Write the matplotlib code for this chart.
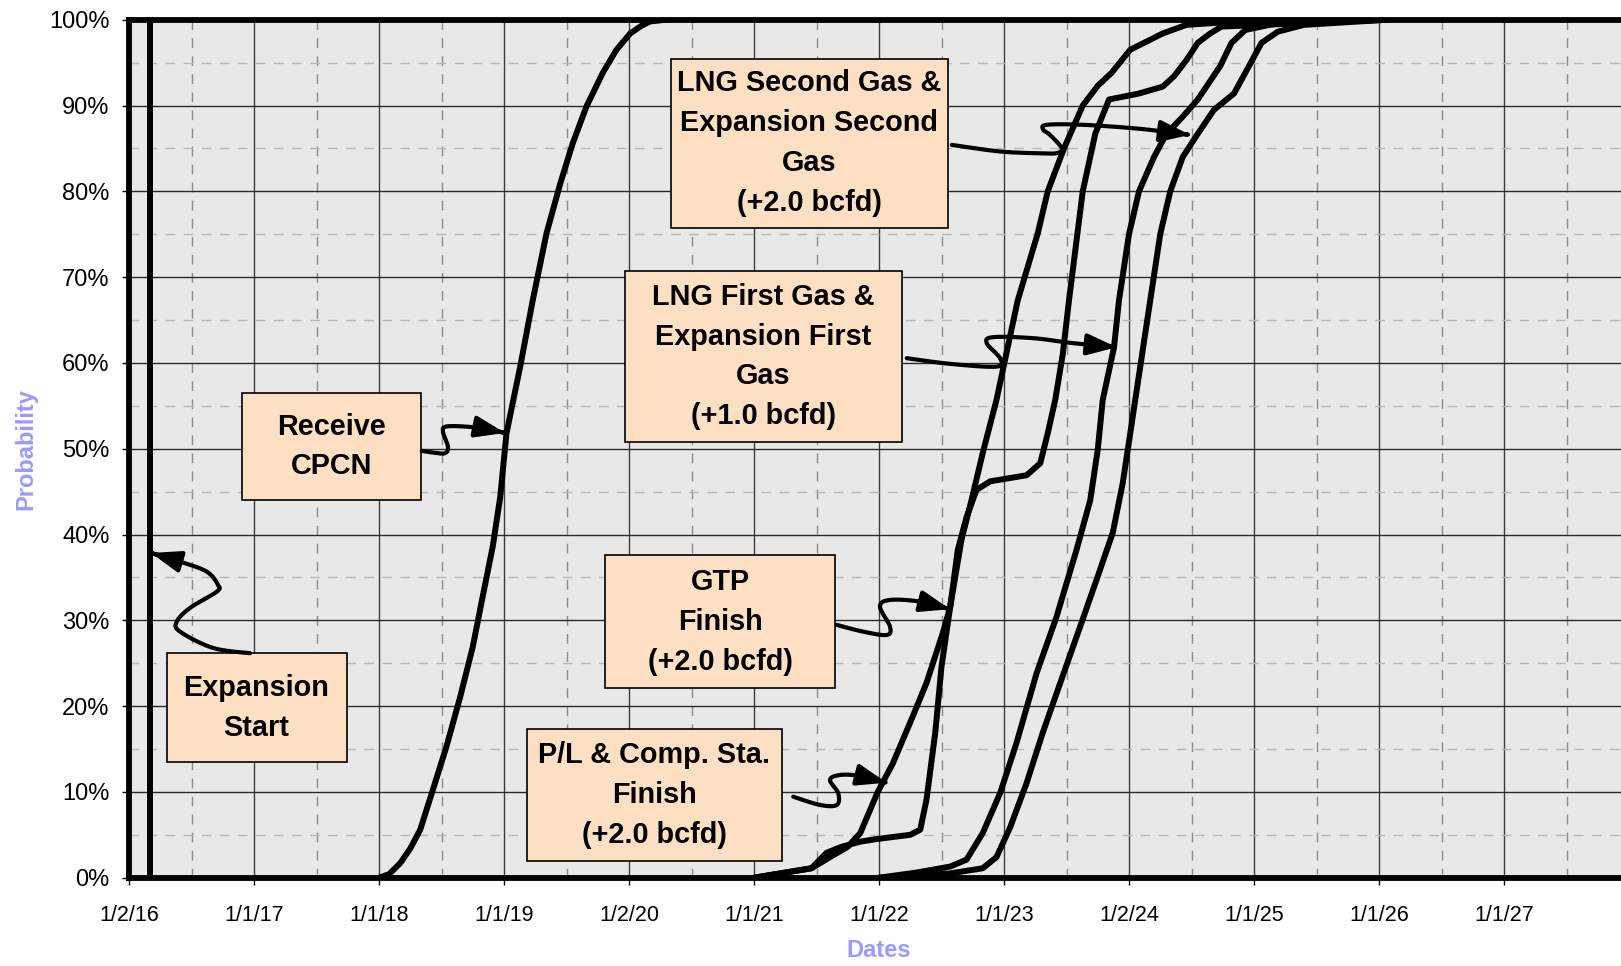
import numpy as np
import matplotlib.pyplot as plt
from matplotlib.patches import Rectangle, FancyArrowPatch
from matplotlib.path import Path
from matplotlib.ticker import FixedLocator, MultipleLocator, FuncFormatter

plt.rcParams['font.family'] = ['Liberation Sans', 'DejaVu Sans']

# Dates as decimal years, probabilities in percent
tick_years = [2016, 2017, 2018, 2019, 2020, 2021, 2022, 2023, 2024, 2025, 2026, 2027]
tick_labels = ['1/2/16', '1/1/17', '1/1/18', '1/1/19', '1/2/20', '1/1/21',
               '1/1/22', '1/1/23', '1/2/24', '1/1/25', '1/1/26', '1/1/27']

exp_x = [2016.17, 2016.17]
exp_y = [0, 100]

cpcn_x = [2018.00, 2018.08, 2018.17, 2018.25, 2018.33, 2018.43, 2018.54, 2018.65, 2018.75,
          2018.83, 2018.91, 2018.97, 2019.02, 2019.13, 2019.23, 2019.34, 2019.45, 2019.55,
          2019.66, 2019.79, 2019.90, 2020.01, 2020.10, 2020.17, 2020.30]
cpcn_y = [0, 0.4, 1.7, 3.4, 5.6, 10.2, 15.3, 21.1, 26.9, 32.8, 38.6, 44.4, 51.8, 59.6,
          67.3, 75.1, 80.9, 85.6, 89.9, 93.8, 96.5, 98.4, 99.3, 99.8, 100]

pl_x = [2021.00, 2021.46, 2021.62, 2021.75, 2021.85, 2021.99, 2022.11, 2022.27, 2022.38,
        2022.51, 2022.57, 2022.66, 2022.74, 2022.83, 2022.94, 2023.11, 2023.27, 2023.35,
        2023.48, 2023.63, 2023.75, 2023.86, 2024.01, 2024.27, 2024.46, 2024.87, 2026.07]
pl_y = [0, 1.1, 2.5, 3.6, 5.2, 10.0, 13.3, 18.8, 22.7, 28.5, 31.6, 39.4, 44.0, 49.5, 55.7,
        67.3, 75.1, 80.0, 85.0, 90.0, 92.3, 93.8, 96.5, 98.4, 99.4, 99.8, 100]

gtp_x = [2021.00, 2021.46, 2021.58, 2021.70, 2021.85, 2021.98, 2022.25, 2022.33, 2022.38,
         2022.45, 2022.50, 2022.57, 2022.63, 2022.70, 2022.78, 2022.89, 2023.18, 2023.29,
         2023.35, 2023.41, 2023.47, 2023.52, 2023.63, 2023.73, 2023.84, 2024.08, 2024.27,
         2024.36, 2024.46, 2024.55, 2024.65, 2024.74, 2026.07]
gtp_y = [0, 1.1, 2.9, 3.6, 4.2, 4.5, 5.0, 5.6, 9.1, 16.9, 24.6, 31.6, 38.2, 42.0, 45.2,
         46.2, 46.9, 48.3, 51.8, 55.7, 61.0, 67.3, 80.0, 86.7, 90.7, 91.4, 92.2, 93.4,
         95.3, 97.3, 98.4, 99.2, 100]

first_x = [2022.00, 2022.30, 2022.57, 2022.70, 2022.83, 2022.97, 2023.10, 2023.26, 2023.42,
           2023.58, 2023.69, 2023.75, 2023.79, 2023.88, 2023.92, 2024.00, 2024.08, 2024.20,
           2024.30, 2024.43, 2024.55, 2024.73, 2024.82, 2024.93, 2025.19, 2026.07]
first_y = [0, 0.6, 1.3, 2.1, 5.2, 9.9, 15.7, 23.8, 30.4, 38.2, 44.0, 49.9, 55.7, 61.8,
           67.3, 75.0, 80.0, 84.0, 86.7, 88.7, 90.7, 94.6, 97.3, 98.8, 99.6, 100]

second_x = [2022.00, 2022.57, 2022.83, 2022.94, 2023.05, 2023.18, 2023.31, 2023.45, 2023.61,
            2023.74, 2023.87, 2023.95, 2024.01, 2024.05, 2024.11, 2024.17, 2024.25, 2024.33,
            2024.43, 2024.55, 2024.68, 2024.84, 2024.96, 2025.06, 2025.19, 2025.40, 2026.07]
second_y = [0, 0.5, 1.1, 2.4, 5.9, 11.0, 16.9, 22.7, 29.3, 34.7, 40.2, 46.0, 51.8, 55.7,
            61.5, 67.3, 75.0, 80.0, 84.0, 86.7, 89.5, 91.4, 94.6, 97.3, 98.6, 99.4, 100]

# callout boxes: text and extent (x0, x1, y0, y1) in data units
box_texts = ['Expansion\nStart', 'Receive\nCPCN',
             'LNG Second Gas &\nExpansion Second\nGas\n(+2.0 bcfd)',
             'LNG First Gas &\nExpansion First\nGas\n(+1.0 bcfd)',
             'GTP\nFinish\n(+2.0 bcfd)', 'P/L & Comp. Sta.\nFinish\n(+2.0 bcfd)']
box_extents = [(2016.30, 2017.74, 13.5, 26.15), (2016.90, 2018.34, 44.0, 56.5),
               (2020.335, 2022.55, 75.74, 95.45), (2019.97, 2022.18, 50.74, 70.74),
               (2019.806, 2021.65, 22.06, 37.6), (2019.186, 2021.22, 1.92, 17.3)]

# squiggly arrows from boxes to curves (waypoints)
arrow_paths = [
    [(2016.968, 26.16), (2016.672, 26.78), (2016.408, 28.68), (2016.382, 29.84),
     (2016.488, 31.44), (2016.702, 33.34), (2016.712, 34.12), (2016.622, 35.67),
     (2016.408, 36.84), (2016.176, 37.85)],
    [(2018.342, 49.75), (2018.448, 49.52), (2018.528, 49.48), (2018.552, 50.21),
     (2018.512, 51.96), (2018.536, 52.58), (2018.688, 52.58), (2018.848, 52.31),
     (2019.008, 51.84)],
    [(2022.582, 85.41), (2022.968, 84.64), (2023.288, 84.43), (2023.422, 84.45),
     (2023.462, 85.03), (2023.368, 86.58), (2023.314, 87.17), (2023.342, 87.75),
     (2023.634, 87.75), (2024.088, 87.28), (2024.488, 86.58)],
    [(2022.222, 60.55), (2022.568, 59.89), (2022.942, 59.57), (2022.968, 60.55),
     (2022.862, 62.30), (2022.914, 63.00), (2023.234, 62.88), (2023.554, 62.30),
     (2023.902, 61.83)],
    [(2021.662, 29.46), (2021.874, 28.68), (2022.062, 28.29), (2022.088, 29.26),
     (2022.008, 31.59), (2022.088, 32.37), (2022.328, 32.18), (2022.568, 31.29)],
    [(2021.314, 9.44), (2021.528, 8.48), (2021.662, 8.48), (2021.674, 9.84),
     (2021.608, 11.39), (2021.688, 11.97), (2021.848, 11.86), (2022.062, 11.07)],
]


def smooth(pts, n=14):
    # Catmull-Rom spline through the arrow waypoints
    pts = np.asarray(pts, float)
    p = np.vstack([pts[0], pts, pts[-1]])
    t = np.linspace(0, 1, n, endpoint=False)[:, None]
    out = []
    for i in range(1, len(p) - 2):
        p0, p1, p2, p3 = p[i - 1], p[i], p[i + 1], p[i + 2]
        out.append(0.5 * (2 * p1 + (p2 - p0) * t + (2 * p0 - 5 * p1 + 4 * p2 - p3) * t ** 2
                          + (3 * p1 - p0 - 3 * p2 + p3) * t ** 3))
    out.append(pts[-1:])
    return np.vstack(out)


fig = plt.figure(figsize=(16.21, 9.66), dpi=100)
ax = fig.add_axes([129 / 1621, 88.3 / 966, 1500 / 1621, 858 / 966])
ax.set_xlim(2016, 2028)
ax.set_ylim(0, 100)
ax.set_facecolor('#e8e8e8')
ax.set_axisbelow(True)

ax.xaxis.set_major_locator(FixedLocator(tick_years))
ax.set_xticklabels(tick_labels)
ax.xaxis.set_minor_locator(MultipleLocator(0.5))
ax.yaxis.set_major_locator(MultipleLocator(10))
ax.yaxis.set_minor_locator(MultipleLocator(5))
ax.yaxis.set_major_formatter(FuncFormatter(lambda v, p: f'{v:.0f}%'))

ax.xaxis.grid(True, which='major', color='#3c3c3c', lw=1.0)
ax.yaxis.grid(True, which='major', color='#2a2a2a', lw=1.0)
ax.xaxis.grid(True, which='minor', color='#8c8c8c', lw=1.0, ls=(0, (7, 6)))
ax.yaxis.grid(True, which='minor', color='#b8b8b8', lw=1.0, ls=(0, (7, 6)))

ax.tick_params(axis='x', which='major', length=5, width=1, pad=15, labelsize=15.5)
ax.tick_params(axis='y', which='major', length=5, width=1, pad=9, labelsize=17)
ax.tick_params(which='minor', length=0)

for side in ['top', 'left', 'bottom']:
    ax.spines[side].set_linewidth(4.2)
    ax.spines[side].set_capstyle('projecting')
ax.spines['right'].set_visible(False)

for xs, ys in [(exp_x, exp_y), (cpcn_x, cpcn_y), (pl_x, pl_y), (gtp_x, gtp_y),
               (first_x, first_y), (second_x, second_y)]:
    ax.plot(xs, ys, color='black', lw=4.3, solid_joinstyle='round',
            solid_capstyle='round', zorder=2)

for txt, (x0, x1, y0, y1) in zip(box_texts, box_extents):
    ax.add_patch(Rectangle((x0, y0), x1 - x0, y1 - y0, facecolor='#fde0c4',
                           edgecolor='black', lw=1.2, zorder=3))
    ax.text((x0 + x1) / 2, (y0 + y1) / 2, txt, ha='center', va='center',
            fontsize=20.8, fontweight='bold', linespacing=1.54, zorder=4)

for pts in arrow_paths:
    arr = FancyArrowPatch(path=Path(smooth(pts)),
                          arrowstyle='-|>,head_length=1.0,head_width=0.36',
                          mutation_scale=18, lw=3.0, color='black',
                          joinstyle='round', capstyle='round', zorder=5)
    ax.add_patch(arr)

ax.set_xlabel('Dates', color='#9999ff', fontsize=17, fontweight='bold', va='center')
ax.xaxis.set_label_coords(0.5, -0.0854)
ax.set_ylabel('Probability', color='#9999ff', fontsize=17, fontweight='bold', va='center')
ax.yaxis.set_label_coords(-0.0687, 0.5)

fig.savefig('out.png', dpi=100)
